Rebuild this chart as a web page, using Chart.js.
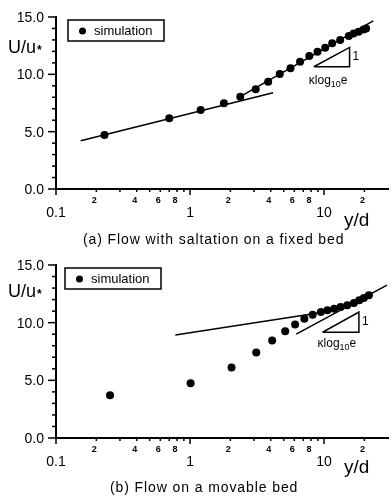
<!DOCTYPE html>
<html>
<head>
<meta charset="utf-8">
<script src="https://cdn.jsdelivr.net/npm/chart.js@4.4.1/dist/chart.umd.min.js"></script>
<style>
  html, body { margin: 0; padding: 0; background: #fff; }
  body { width: 392px; height: 497px; position: relative; overflow: hidden; font-family: "Liberation Sans", Arial, sans-serif; }
  .panel { position: absolute; left: 0; width: 392px; }
  #panelA { top: 0; height: 248px; }
  #panelB { top: 248px; height: 249px; }
  .caption { position: absolute; font-size: 14px; letter-spacing: 0.9px; color: #000; white-space: nowrap; line-height: 14px; }
  #capA { left: 83px; top: 232px; }
  #capB { left: 110px; top: 480px; }
</style>
</head>
<body>
<div class="panel" id="panelA"><canvas id="chartA"></canvas></div>
<div class="panel" id="panelB"><canvas id="chartB"></canvas></div>
<div class="caption" id="capA">(a) Flow with saltation on a fixed bed</div>
<div class="caption" id="capB">(b) Flow on a movable bed</div>
<script>
// (a) saltation on a fixed bed
const simA_x = [0.23, 0.70, 1.2, 1.79, 2.37, 3.09, 3.83, 4.67, 5.62, 6.62, 7.76, 8.93, 10.2, 11.5, 13.2, 15.3, 16.6, 18.1, 19.7, 20.6];
const simA_y = [4.71, 6.16, 6.89, 7.47, 8.05, 8.69, 9.35, 10.03, 10.52, 11.10, 11.6, 11.97, 12.32, 12.7, 12.99, 13.34, 13.57, 13.71, 13.92, 14.0];
const lowA_x = [0.153, 4.17];
const lowA_y = [4.21, 8.40];
const upA_x = [2.37, 23.3];
const upA_y = [8.05, 14.67];
const triA_x = [8.39, 15.5];
const triA_y = [10.66, 12.35];

// (b) movable bed
const simB_x = [0.253, 1.01, 2.04, 3.12, 4.1, 5.13, 6.08, 7.13, 8.22, 9.47, 10.6, 11.9, 13.3, 14.9, 16.7, 18.3, 19.8, 21.6];
const simB_y = [3.70, 4.75, 6.11, 7.42, 8.45, 9.26, 9.84, 10.34, 10.69, 10.92, 11.07, 11.21, 11.35, 11.5, 11.7, 11.94, 12.14, 12.37];
const flatB_x = [0.777, 9.3];
const flatB_y = [8.94, 10.85];
const steepB_x = [6.2, 29.5];
const steepB_y = [9.0, 13.25];
const triB_x = [9.75, 18.2];
const triB_y = [9.17, 10.92];

// axes
const yMajorTicks = [0, 5, 10, 15];
const yTickLabels = ["0.0", "5.0", "10.0", "15.0"];
const yMinorTicks = [1, 2, 3, 4, 6, 7, 8, 9, 11, 12, 13, 14];
const xMajorTicks = [0.1, 1, 10];
const xMajorLabels = ["0.1", "1", "10"];
const xMinorTicks = [0.2, 0.3, 0.4, 0.5, 0.6, 0.7, 0.8, 0.9, 2, 3, 4, 5, 6, 7, 8, 9, 20];
const xMinorLabels = ["2", "", "4", "", "6", "", "8", "", "2", "", "4", "", "6", "", "8", "", "2"];

const FONT = '"Liberation Sans", Arial, sans-serif';

function seriesPoints(xs, ys) {
  return xs.map((x, i) => ({ x: x, y: ys[i] }));
}

function lineDataset(xs, ys) {
  return {
    data: seriesPoints(xs, ys),
    showLine: true,
    borderColor: "#000",
    borderWidth: 1.5,
    pointRadius: 0,
    fill: false
  };
}

function triangleDataset(tx, ty) {
  return lineDataset([tx[0], tx[1], tx[1], tx[0]], [ty[0], ty[0], ty[1], ty[0]]);
}

const decor = {
  id: "decor",
  afterDraw(chart, args, o) {
    const ctx = chart.ctx;
    const xs = chart.scales.x;
    const ys = chart.scales.y;
    const left = chart.chartArea.left;
    const bottom = chart.chartArea.bottom;

    ctx.save();
    ctx.fillStyle = "#000";
    ctx.strokeStyle = "#000";
    ctx.lineWidth = 1.5;

    function seg(x1, y1, x2, y2) {
      ctx.beginPath();
      ctx.moveTo(x1, y1);
      ctx.lineTo(x2, y2);
      ctx.stroke();
    }

    // y ticks
    yMinorTicks.forEach(v => {
      const py = ys.getPixelForValue(v);
      seg(left - 4, py, left, py);
    });
    ctx.font = "14px " + FONT;
    ctx.textAlign = "right";
    ctx.textBaseline = "middle";
    yMajorTicks.forEach((v, i) => {
      const py = ys.getPixelForValue(v);
      seg(left - 8, py, left, py);
      ctx.fillText(yTickLabels[i], left - 12, py + 1);
    });

    // x ticks
    ctx.textAlign = "center";
    xMinorTicks.forEach((v, i) => {
      const px = xs.getPixelForValue(v);
      seg(px, bottom, px, bottom + 3);
      if (xMinorLabels[i]) {
        ctx.font = "bold 9px " + FONT;
        ctx.fillText(xMinorLabels[i], px - 2, bottom + 12);
      }
    });
    xMajorTicks.forEach((v, i) => {
      const px = xs.getPixelForValue(v);
      seg(px, bottom, px, bottom + 6);
      ctx.font = "14px " + FONT;
      ctx.fillText(xMajorLabels[i], px, bottom + 24);
    });

    // axis titles
    ctx.textAlign = "left";
    ctx.textBaseline = "alphabetic";
    ctx.font = "18px " + FONT;
    ctx.fillText("U/u", 8, o.uBase);
    const uw = ctx.measureText("U/u").width;
    ctx.font = "bold 12px " + FONT;
    ctx.textBaseline = "middle";
    ctx.fillText("*", 8 + uw + 1, o.uBase - 2);
    ctx.textBaseline = "alphabetic";
    ctx.font = "19px " + FONT;
    ctx.fillText("y/d", 344, o.ydBase);

    // legend box
    const lx = o.legendX, ly = o.legendY;
    ctx.strokeRect(lx, ly, 96, 21);
    ctx.beginPath();
    ctx.arc(lx + 14.5, ly + 11, 3.5, 0, Math.PI * 2);
    ctx.fill();
    ctx.font = "13px " + FONT;
    ctx.textBaseline = "middle";
    ctx.fillText(chart.data.datasets[0].label, lx + 26, ly + 11);

    // slope triangle labels
    const tx0 = xs.getPixelForValue(o.tri[0][0]);
    const tx1 = xs.getPixelForValue(o.tri[0][1]);
    const ty0 = ys.getPixelForValue(o.tri[1][0]);
    const ty1 = ys.getPixelForValue(o.tri[1][1]);
    ctx.font = "12px " + FONT;
    ctx.fillText("1", tx1 + 3, (ty0 + ty1) / 2);
    ctx.textBaseline = "alphabetic";
    let kx = tx0 - 5;
    const kb = ty0 + o.kOff;
    ctx.fillText("\u03balog", kx, kb);
    kx += ctx.measureText("\u03balog").width;
    ctx.font = "9px " + FONT;
    ctx.fillText("10", kx, kb + 3);
    kx += ctx.measureText("10").width;
    ctx.font = "12px " + FONT;
    ctx.fillText("e", kx, kb);

    ctx.restore();
  }
};

function makeChart(canvasId, sim, lines, tri, decorOpts) {
  const datasets = [
    {
      label: "simulation",
      data: seriesPoints(sim[0], sim[1]),
      showLine: false,
      pointRadius: 4,
      pointBackgroundColor: "#000",
      pointBorderColor: "#000",
      pointBorderWidth: 0
    }
  ];
  lines.forEach(l => datasets.push(lineDataset(l[0], l[1])));
  datasets.push(triangleDataset(tri[0], tri[1]));
  decorOpts.tri = tri;

  return new Chart(document.getElementById(canvasId), {
    type: "scatter",
    data: { datasets: datasets },
    options: {
      responsive: true,
      maintainAspectRatio: false,
      animation: false,
      layout: { padding: { top: 17, right: 0, bottom: 0, left: 0 } },
      plugins: {
        legend: { display: false },
        tooltip: { enabled: false },
        decor: decorOpts
      },
      scales: {
        x: {
          type: "logarithmic",
          min: 0.1,
          max: 30,
          grid: { display: false },
          ticks: { display: false },
          border: { color: "#000", width: 2 },
          afterFit: s => { s.height = 59; }
        },
        y: {
          type: "linear",
          min: 0,
          max: 15,
          grid: { display: false },
          ticks: { display: false },
          border: { color: "#000", width: 2 },
          afterFit: s => { s.width = 56; }
        }
      }
    },
    plugins: [decor]
  });
}

makeChart("chartA", [simA_x, simA_y], [[lowA_x, lowA_y], [upA_x, upA_y]], [triA_x, triA_y],
  { legendX: 68, legendY: 20, uBase: 53, ydBase: 226, kOff: 17 });
makeChart("chartB", [simB_x, simB_y], [[flatB_x, flatB_y], [steepB_x, steepB_y]], [triB_x, triB_y],
  { legendX: 65, legendY: 20, uBase: 49, ydBase: 225, kOff: 15 });
</script>
</body>
</html>
